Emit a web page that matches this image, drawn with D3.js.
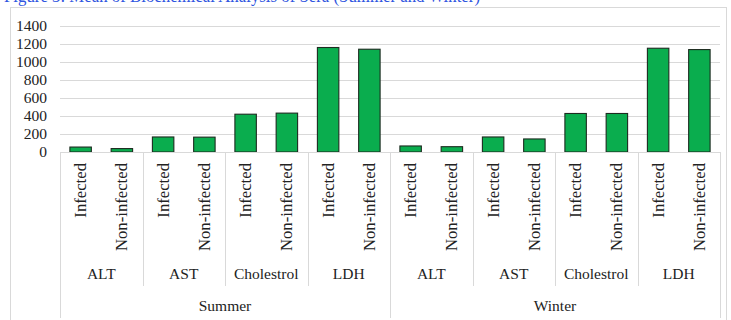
<!DOCTYPE html>
<html><head><meta charset="utf-8">
<script src="https://cdn.jsdelivr.net/npm/d3@7"></script>
<style>body{margin:0;background:#fff;}svg{display:block;}</style>
</head><body><svg id="c" width="731" height="320"></svg>
<script>
const seasons = ["Summer", "Winter"];
const params = ["ALT", "AST", "Cholestrol", "LDH"];
const groups = ["Infected", "Non-infected"];
const summerValues = [55, 38, 167, 165, 420, 432, 1161, 1142];
const winterValues = [67, 59, 167, 145, 428, 428, 1153, 1138];
const yTicks = [0, 200, 400, 600, 800, 1000, 1200, 1400];
const titleText = "Figure 3: Mean of Biochemical Analysis of Sera (Summer and Winter)";

(function () {
const svg = d3.select("#c");
const serif = "'Liberation Serif', 'Times New Roman', serif";
const plotLeft = 60, plotRight = 720, plotTop = 26, plotBase = 152;

const rows = [];
seasons.forEach((s, si) => {
  const vals = si === 0 ? summerValues : winterValues;
  params.forEach((p, pi) => {
    groups.forEach((g, gi) => {
      rows.push({season: s, param: p, group: g, key: s + "|" + p + "|" + g, value: vals[pi * 2 + gi]});
    });
  });
});

const x = d3.scaleBand().domain(rows.map(d => d.key)).range([plotLeft, plotRight]).paddingInner(0.48).paddingOuter(0.24);
const step = x.step();
const y = d3.scaleLinear().domain([0, 1400]).range([plotBase, plotTop]);

// title (cut off at top, as in the reference)
svg.append("text").attr("x", 4).attr("y", 2)
  .attr("font-family", "'Liberation Serif', serif").attr("font-size", 19)
  .attr("textLength", 476).attr("lengthAdjust", "spacingAndGlyphs")
  .attr("fill", "#2f55e0").text(titleText);

// frame
svg.append("rect").attr("x", 10.5).attr("y", 7.5).attr("width", 716).attr("height", 330)
  .attr("fill", "none").attr("stroke", "#d9d9d9");

// gridlines
svg.append("g").selectAll("line").data(yTicks.filter(t => t > 0)).join("line")
  .attr("x1", plotLeft).attr("x2", plotRight)
  .attr("y1", d => Math.round(y(d)) + 0.5).attr("y2", d => Math.round(y(d)) + 0.5)
  .attr("stroke", "#d9d9d9").attr("stroke-width", 1);

// y axis labels
const yAxis = d3.axisLeft(y).tickValues(yTicks).tickFormat(d3.format("d")).tickSize(0).tickPadding(13);
const ya = svg.append("g").attr("transform", `translate(${plotLeft},0)`).call(yAxis);
ya.select(".domain").remove();
ya.selectAll("text").attr("font-family", serif).attr("font-size", 15.5).attr("fill", "#222");

// bars
svg.append("g").selectAll("rect").data(rows).join("rect")
  .attr("x", d => x(d.key)).attr("width", x.bandwidth())
  .attr("y", d => y(d.value)).attr("height", d => y(0) - y(d.value))
  .attr("fill", "#0aad4e").attr("stroke", "#1d2b20").attr("stroke-width", 1.1);

// baseline
svg.append("line").attr("x1", plotLeft).attr("x2", plotRight).attr("y1", plotBase + 0.5).attr("y2", plotBase + 0.5)
  .attr("stroke", "#d9d9d9");

// category separators
const perSeason = params.length * groups.length;
const sepG = svg.append("g");
for (let i = 0; i <= rows.length; i += 2) {
  const xx = plotLeft + i * step;
  const outer = (i % perSeason === 0);
  sepG.append("line").attr("x1", Math.round(xx) + 0.5).attr("x2", Math.round(xx) + 0.5)
    .attr("y1", plotBase).attr("y2", outer ? 318 : 286)
    .attr("stroke", "#d9d9d9");
}

// rotated group labels
svg.append("g").selectAll("text").data(rows).join("text")
  .attr("transform", d => `translate(${x(d.key) + x.bandwidth() / 2},163) rotate(-90)`)
  .attr("text-anchor", "end").attr("dy", "0.33em")
  .attr("font-family", serif).attr("font-size", 16.7).attr("fill", "#222")
  .text(d => d.group);

// parameter labels
const paramRows = [];
seasons.forEach((s, si) => params.forEach((p, pi) => paramRows.push({p, idx: si * perSeason + pi * 2})));
svg.append("g").selectAll("text").data(paramRows).join("text")
  .attr("x", d => plotLeft + (d.idx + 1) * step).attr("y", 279)
  .attr("text-anchor", "middle").attr("font-family", serif).attr("font-size", 15.5).attr("fill", "#222")
  .text(d => d.p);

// season labels
svg.append("g").selectAll("text").data(seasons).join("text")
  .attr("x", (d, i) => plotLeft + (i * perSeason + perSeason / 2) * step).attr("y", 311)
  .attr("text-anchor", "middle").attr("font-family", serif).attr("font-size", 15.5).attr("fill", "#222")
  .text(d => d);
})();
</script></body></html>
